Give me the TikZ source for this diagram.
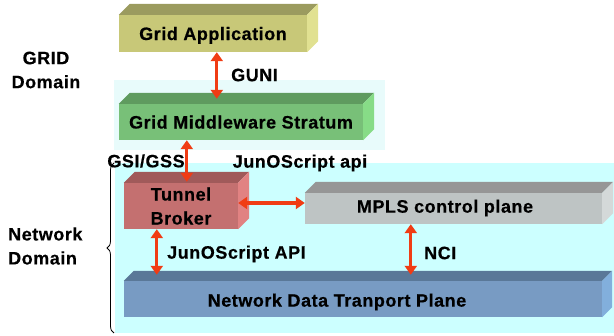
\documentclass[tikz,border=0pt]{standalone}
\usepackage{fontspec}
\setmainfont[LetterSpace=3,FakeBold=0.4]{Liberation Sans}
\usetikzlibrary{arrows.meta,decorations.pathreplacing,calc}

\definecolor{appfront}{HTML}{C8C878}
\definecolor{apptop}{HTML}{9B9B5F}
\definecolor{appside}{HTML}{E1E191}
\definecolor{midfront}{HTML}{78C078}
\definecolor{midtop}{HTML}{5F9B5F}
\definecolor{midside}{HTML}{87DC87}
\definecolor{tbfront}{HTML}{C47070}
\definecolor{tbtop}{HTML}{A05A5A}
\definecolor{tbside}{HTML}{E18282}
\definecolor{mplsfront}{HTML}{BEC4C4}
\definecolor{mplstop}{HTML}{969696}
\definecolor{mplsside}{HTML}{D4D9D9}
\definecolor{netfront}{HTML}{789BC3}
\definecolor{nettop}{HTML}{5A7898}
\definecolor{netside}{HTML}{82AFDC}
\definecolor{netdomain}{HTML}{CCFFFF}
\definecolor{gridhaze}{HTML}{E8FBFB}
\definecolor{arrowred}{HTML}{F03C14}

% top and right faces of a slab whose front face is node #1, depth #2
\newcommand\slabfaces[4]{%
  \fill[#3] (#1.north west) -- ([xshift=#2pt,yshift=#2pt]#1.north west)
    -- ([xshift=#2pt,yshift=#2pt]#1.north east) -- (#1.north east) -- cycle;
  \fill[#4] (#1.north east) -- ([xshift=#2pt,yshift=#2pt]#1.north east)
    -- ([xshift=#2pt,yshift=#2pt]#1.south east) -- (#1.south east) -- cycle;}

\begin{document}
\begin{tikzpicture}[x=1pt,y=-1pt,
  face/.style={draw=none, inner sep=0pt, align=center, text depth=0pt,
    font=\fontsize{18}{24}\selectfont\bfseries},
  lbl/.style={inner sep=0pt, align=center,
    font=\fontsize{18}{24}\selectfont\bfseries},
  biarrow/.style={{Triangle[width=12pt,length=9pt]}-{Triangle[width=12pt,length=9pt]},
    line width=3.2pt, draw=arrowred},
  bracestyle/.style={decorate, decoration={brace, amplitude=7pt}, draw=black, line width=0.8pt}]
\useasboundingbox (0,0) rectangle (614,336);

% backgrounds of the two domains
\fill[gridhaze] (114,80) rectangle (385,150);
\fill[netdomain] (115,163) rectangle (614,333);

% slabs
\node[face, fill=appfront, minimum width=188pt, minimum height=37pt] (app) at (213,33.5) {Grid Application};
\slabfaces{app}{11}{apptop}{appside}

\node[face, fill=midfront, minimum width=244pt, minimum height=36pt] (mid) at (241,122) {Grid Middleware Stratum};
\slabfaces{mid}{11}{midtop}{midside}

\node[face, fill=tbfront, minimum width=114pt, minimum height=46pt] (tb) at (181,206) {Tunnel\\Broker};
\slabfaces{tb}{11}{tbtop}{tbside}

\node[face, fill=mplsfront, minimum width=297pt, minimum height=31pt] (mpls) at (453.5,208.5) {};
\slabfaces{mpls}{11}{mplstop}{mplsside}
\node[lbl] (mplstext) at (445,208) {MPLS control plane};

\node[face, fill=netfront, minimum width=478pt, minimum height=36pt] (net) at (363,299) {};
\slabfaces{net}{10}{nettop}{netside}
\node[lbl] (nettext) at (337,302) {Network Data Tranport Plane};

% interfaces
\draw[biarrow] ([xshift=98pt]app.south west) -- ([xshift=98pt,yshift=5pt]mid.north west);
\draw[biarrow] ([xshift=68pt]mid.south west) -- ([xshift=63pt,yshift=1pt]tb.north west);
\coordinate (tbr) at ([yshift=3pt]tb.east);
\draw[biarrow] (tbr) -- (tbr -| mpls.west);
\draw[biarrow] ([xshift=33pt]tb.south west) -- ([xshift=33pt,yshift=6pt]net.north west);
\draw[biarrow] ([xshift=106pt]mpls.south west) -- ([xshift=287pt,yshift=6pt]net.north west);

% interface labels
\node[lbl, anchor=west] (guni) at (231,75) {GUNI};
\node[lbl] (gsi) at (146,161) {GSI/GSS};
\node[lbl] (junapi) at (300,163) {JunOScript api};
\node[lbl, anchor=west] (junAPI) at (167,254) {JunOScript API};
\node[lbl, anchor=west] (nci) at (424,253) {NCI};

% domain labels
\node[lbl] (griddom) at (46,70) {GRID\\Domain};
\node[lbl, align=left, anchor=west] (netdom) at (8,246) {Network\\Domain};

% brace spanning the network domain
\coordinate (bracebot) at (114,333);
\coordinate (bracetop) at (114,163);
\draw[bracestyle] (bracebot) -- (bracetop);
\end{tikzpicture}
\end{document}
